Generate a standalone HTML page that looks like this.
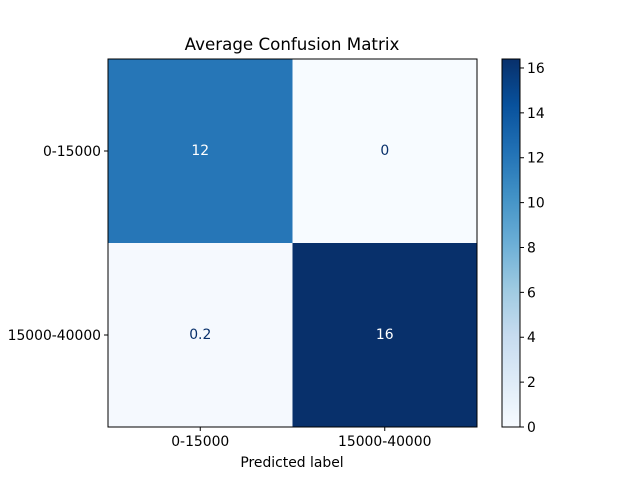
<!DOCTYPE html>
<html><head><meta charset="utf-8"><style>
body{margin:0;background:#fff;}
svg{display:block;font-family:"DejaVu Sans","Liberation Sans",sans-serif;}
</style></head><body>
<svg id="chart" width="640" height="480">
<defs><linearGradient id="cbg" x1="0" y1="1" x2="0" y2="0">
<stop offset="0" stop-color="#f7fbff"/><stop offset="0.125" stop-color="#deebf7"/><stop offset="0.25" stop-color="#c6dbef"/><stop offset="0.375" stop-color="#9ecae1"/><stop offset="0.5" stop-color="#6baed6"/><stop offset="0.625" stop-color="#4292c6"/><stop offset="0.75" stop-color="#2171b5"/><stop offset="0.875" stop-color="#08519c"/><stop offset="1" stop-color="#08306b"/>
</linearGradient></defs>
<text x="292" y="50" text-anchor="middle" font-size="16.7">Average Confusion Matrix</text>
<g id="cells"></g>
<rect x="108" y="59" width="369" height="368" fill="none" stroke="#000" stroke-width="1"/>
<g id="axes"></g>
<text x="292" y="467" text-anchor="middle" font-size="13.9">Predicted label</text>
<rect x="502" y="59" width="18" height="368" fill="url(#cbg)" stroke="#000" stroke-width="1"/>
<g id="cbticks"></g>
</svg>
<script>
const labels = ["0-15000","15000-40000"];
const values = [[12, 0],[0.2, 16.4]];
const displayValues = ["12","0","0.2","16"];
const cbTicks = [0,2,4,6,8,10,12,14,16];
const vmin = 0, vmax = 16.4;
const NS="http://www.w3.org/2000/svg";
const L=108,T=59,W=369,H=368,CBX=502,CBW=18;
const FS=13.9;
const stops=["#f7fbff","#deebf7","#c6dbef","#9ecae1","#6baed6","#4292c6","#2171b5","#08519c","#08306b"];
function hex(c){return [1,3,5].map(i=>parseInt(c.substr(i,2),16));}
function cmap(v){let t=Math.max(0,Math.min(1,(v-vmin)/(vmax-vmin)))*8;let i=Math.min(7,Math.floor(t));let f=t-i;let a=hex(stops[i]),b=hex(stops[i+1]);return "rgb("+a.map((x,k)=>Math.round(x+(b[k]-x)*f)).join(",")+")";}
const n=labels.length,cw=W/n,ch=H/n;
function xs(j){return L+j*cw;} function ys(i){return T+i*ch;}
function cy(v){return T+H-(v-vmin)/(vmax-vmin)*H;}
function mk(tag,attrs,parent){const e=document.createElementNS(NS,tag);for(const k in attrs)e.setAttribute(k,attrs[k]);parent.appendChild(e);return e;}
const cells=document.getElementById('cells'),axes=document.getElementById('axes'),cbt=document.getElementById('cbticks');
for(let i=0;i<n;i++)for(let j=0;j<n;j++){
 const v=values[i][j];
 const r=mk('rect',{x:xs(j),y:ys(i),width:cw,height:ch,fill:cmap(v)},cells);
 
 
 const t=mk('text',{x:xs(j)+cw/2,y:ys(i)+ch/2+4,'text-anchor':'middle','font-size':FS,fill:(v-vmin)>(vmax-vmin)/2?'#fff':'#08306b'},cells);
 t.textContent=displayValues[i*n+j];
 
 
}
labels.forEach((lb,k)=>{
 const x=xs(k)+cw/2;
 mk('line',{x1:x,x2:x,y1:T+H,y2:T+H+4,stroke:'#000'},axes);
 const t=mk('text',{x:x,y:T+H+19,'text-anchor':'middle','font-size':FS},axes);
 t.textContent=lb;
 
 
 const y=ys(k)+ch/2;
 mk('line',{x1:L-4,x2:L,y1:y,y2:y,stroke:'#000'},axes);
 const u=mk('text',{x:L-7,y:y+5,'text-anchor':'end','font-size':FS},axes);
 u.textContent=lb;
 
 
});
cbTicks.forEach(v=>{
 const y=cy(v);
 mk('line',{x1:CBX+CBW,x2:CBX+CBW+4,y1:y,y2:y,stroke:'#000'},cbt);
 const t=mk('text',{x:CBX+CBW+7,y:y+5,'font-size':FS},cbt);
 t.textContent=v;
 
 
});
</script>
</body></html>
